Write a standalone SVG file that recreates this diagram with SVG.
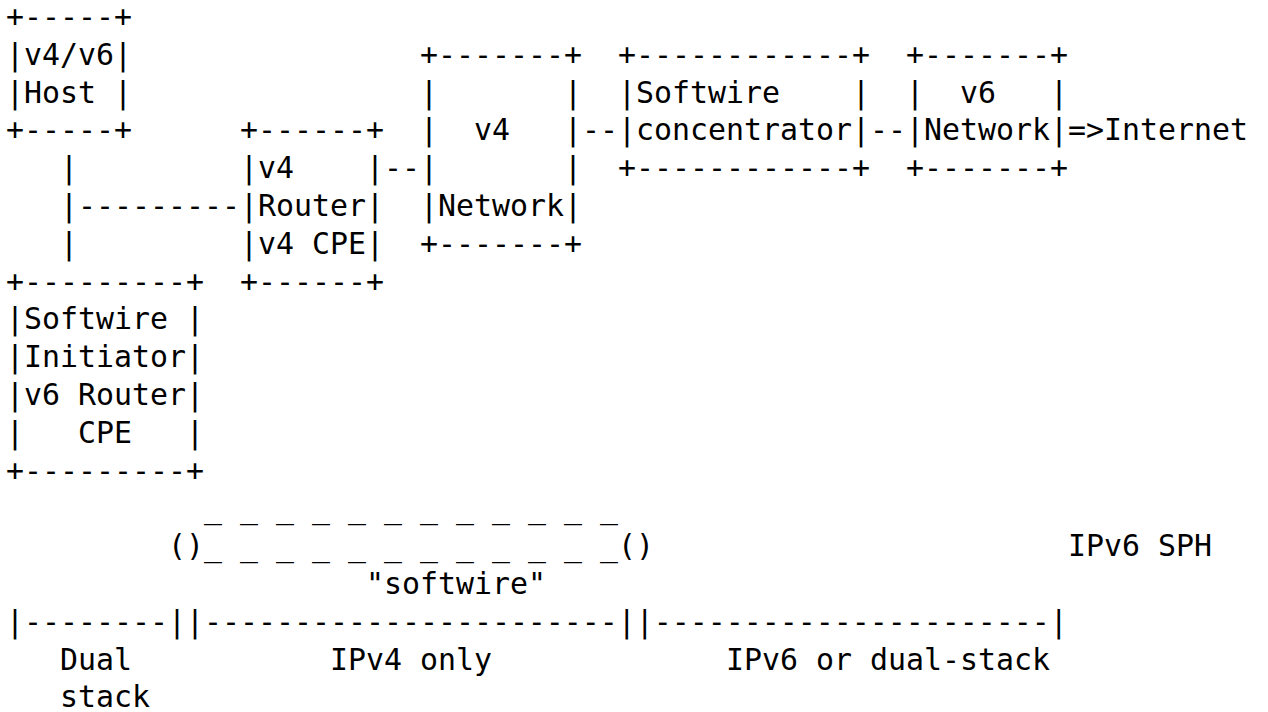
<svg xmlns="http://www.w3.org/2000/svg" width="1268" height="712" viewBox="0 0 1268 712" xml:space="preserve">
<style>
  text { font-family: "DejaVu Sans Mono", "Liberation Mono", monospace; font-size: 29.9px; fill: #000; white-space: pre; }
</style>
<rect width="1268" height="712" fill="#fff"/>
<g id="host">
  <text x="6" y="27">+-----+</text>
  <text x="6" y="64.8">|v4/v6|</text>
  <text x="6" y="102.6">|Host |</text>
  <text x="6" y="140.4">+-----+</text>
</g>
<g id="v4-router">
  <text x="240" y="140.4">+------+</text>
  <text x="240" y="178.2">|v4    |</text>
  <text x="240" y="216">|Router|</text>
  <text x="240" y="253.8">|v4 CPE|</text>
  <text x="240" y="291.6">+------+</text>
</g>
<g id="v4-network">
  <text x="420" y="64.8">+-------+</text>
  <text x="420" y="102.6">|       |</text>
  <text x="420" y="140.4">|  v4   |</text>
  <text x="420" y="178.2">|       |</text>
  <text x="420" y="216">|Network|</text>
  <text x="420" y="253.8">+-------+</text>
</g>
<g id="concentrator">
  <text x="618" y="64.8">+------------+</text>
  <text x="618" y="102.6">|Softwire    |</text>
  <text x="618" y="140.4">|concentrator|</text>
  <text x="618" y="178.2">+------------+</text>
</g>
<g id="v6-network">
  <text x="906" y="64.8">+-------+</text>
  <text x="906" y="102.6">|  v6   |</text>
  <text x="906" y="140.4">|Network|</text>
  <text x="906" y="178.2">+-------+</text>
</g>
<g id="internet">
  <text x="1104" y="140.4">Internet</text>
</g>
<g id="initiator">
  <text x="6" y="291.6">+---------+</text>
  <text x="6" y="329.4">|Softwire |</text>
  <text x="6" y="367.2">|Initiator|</text>
  <text x="6" y="405">|v6 Router|</text>
  <text x="6" y="442.8">|   CPE   |</text>
  <text x="6" y="480.6">+---------+</text>
</g>
<g id="connectors">
  <text x="582" y="140.4">--</text>
  <text x="870" y="140.4">--</text>
  <text x="1068" y="140.4">=&gt;</text>
  <text x="384" y="178.2">--</text>
  <text x="60" y="178.2">|</text>
  <text x="60" y="216">|---------</text>
  <text x="60" y="253.8">|</text>
</g>
<g id="softwire">
  <text x="204" y="518.4">_ _ _ _ _ _ _ _ _ _ _ _</text>
  <text x="168" y="556.2">()_ _ _ _ _ _ _ _ _ _ _ _()</text>
  <text x="366" y="594">"softwire"</text>
</g>
<g id="sph-label">
  <text x="1068" y="556.2">IPv6 SPH</text>
</g>
<g id="scale">
  <text x="6" y="631.8">|--------||-----------------------||----------------------|</text>
  <text x="60" y="669.6">Dual</text>
  <text x="330" y="669.6">IPv4 only</text>
  <text x="726" y="669.6">IPv6 or dual-stack</text>
  <text x="60" y="707.4">stack</text>
</g>
</svg>
